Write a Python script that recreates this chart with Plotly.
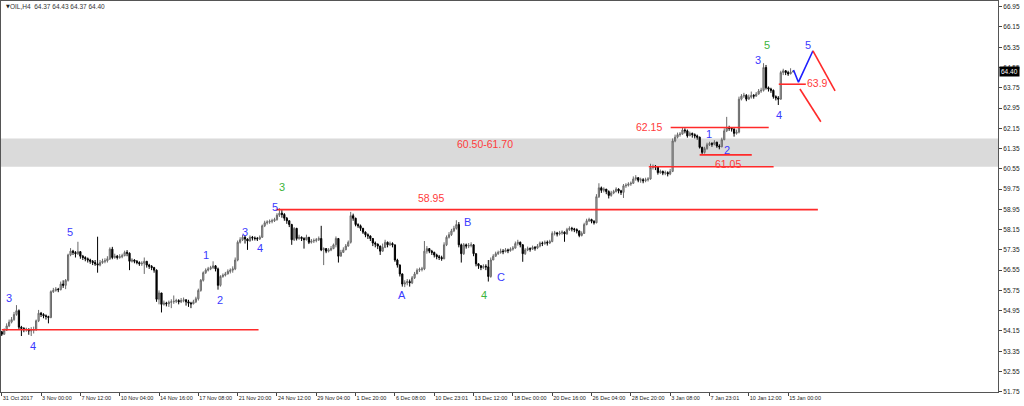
import plotly.graph_objects as go

# ---------------- data ----------------
closes = [
 54.02,54.18,54.35,54.50,54.60,54.80,54.95,54.30,54.25,54.20,
 54.22,54.15,54.18,54.20,54.55,54.85,54.80,54.75,54.72,54.68,
 55.70,55.75,55.80,55.78,56.00,55.95,56.15,57.15,57.30,57.25,
 57.20,57.28,57.10,57.05,57.00,56.95,56.90,56.85,56.80,56.75,
 56.85,56.90,56.92,57.00,57.38,57.05,57.10,57.05,57.08,57.12,
 57.25,57.22,56.90,56.95,56.90,56.85,56.80,56.82,56.90,56.75,
 56.70,56.65,56.55,55.40,55.65,55.20,55.25,55.22,55.28,55.30,
 55.32,55.35,55.30,55.35,55.38,55.30,55.25,55.22,55.30,55.42,
 55.75,56.15,56.45,56.55,56.60,56.65,56.72,56.60,55.95,56.30,
 56.35,56.40,56.50,56.55,56.60,56.95,57.65,57.75,57.85,57.78,
 57.70,57.85,57.82,57.80,57.78,57.85,58.30,58.42,58.45,58.48,
 58.50,58.55,58.72,58.80,58.75,58.60,58.50,58.35,57.75,58.20,
 57.80,57.85,57.80,57.75,57.85,57.65,57.70,57.72,57.75,57.80,
 57.35,57.40,57.30,57.35,57.40,57.55,57.80,57.10,57.25,57.35,
 57.50,57.65,58.70,58.60,58.35,58.30,58.20,58.05,57.95,57.90,
 57.80,57.62,57.58,57.50,57.30,57.45,57.65,57.55,57.60,57.55,
 56.95,56.75,56.40,56.00,56.05,56.10,56.05,56.25,56.40,56.55,
 56.58,56.60,57.30,57.40,57.30,57.25,57.15,57.08,57.05,57.00,
 57.55,57.85,57.95,58.10,58.20,58.35,57.55,57.20,57.55,57.50,
 57.52,57.55,57.20,56.80,56.72,56.65,56.70,56.68,56.30,56.95,
 57.10,57.20,57.25,57.30,57.28,57.35,57.32,57.38,57.42,57.60,
 57.65,57.55,57.20,57.35,57.40,57.38,57.45,57.42,57.50,57.62,
 57.60,57.65,57.62,57.68,58.00,58.02,57.98,58.02,58.05,57.98,
 58.15,58.20,58.18,58.15,58.10,57.92,58.00,58.35,58.50,58.55,
 58.48,58.42,59.45,59.80,59.70,59.75,59.65,59.50,59.60,59.65,
 59.75,59.68,59.62,59.88,59.90,59.95,59.98,60.15,60.20,60.10,
 60.12,60.08,60.12,60.15,60.60,60.65,60.62,60.40,60.45,60.38,
 60.40,60.35,60.45,61.65,61.80,61.90,61.92,62.08,62.05,61.85,
 61.95,61.90,61.85,61.80,61.40,61.20,61.35,61.50,61.55,61.52,
 61.60,61.45,61.42,61.70,62.05,62.18,62.15,62.12,61.95,62.00,
 63.30,63.42,63.45,63.30,63.38,63.45,63.42,63.50,63.62,63.65,
 64.55,63.75,63.70,63.65,63.40,63.35,63.30,64.35,64.42,64.35,
 64.30,64.37,64.40]

highs = [
 54.15,54.25,54.45,54.60,54.70,54.90,55.17,55.00,54.35,54.30,
 54.28,54.25,54.30,54.32,54.60,54.98,54.90,54.85,54.80,54.75,
 55.75,55.85,55.88,55.85,56.10,56.15,56.20,57.20,57.42,57.35,
 57.30,57.67,57.30,57.15,57.10,57.05,57.00,56.95,56.95,57.87,
 56.95,57.00,57.02,57.10,57.45,57.47,57.20,57.15,57.18,57.20,
 57.32,57.34,57.25,57.02,56.98,56.95,56.90,56.90,57.05,56.90,
 56.80,56.75,56.68,56.58,55.75,55.60,55.35,55.30,55.35,55.40,
 55.55,55.42,55.40,55.45,55.47,55.40,55.38,55.30,55.38,55.50,
 55.82,56.20,56.50,56.62,56.68,56.72,56.90,56.75,56.65,56.35,
 56.42,56.48,56.58,56.62,56.70,57.05,57.72,57.85,57.95,57.90,
 57.80,57.92,57.90,57.88,57.86,57.92,58.35,58.50,58.52,58.55,
 58.58,58.62,58.80,58.99,58.92,58.80,58.65,58.52,58.38,58.25,
 58.22,57.95,57.88,57.85,57.95,57.85,57.78,57.80,57.82,57.88,
 58.30,57.45,57.42,57.42,57.50,57.60,57.88,57.82,57.35,57.45,
 57.58,57.72,58.85,58.78,58.62,58.40,58.35,58.22,58.08,58.00,
 57.92,57.82,57.68,57.60,57.52,57.60,57.75,57.68,57.68,57.65,
 57.55,57.00,56.78,56.42,56.15,56.20,56.18,56.32,56.48,56.62,
 56.65,56.68,57.70,57.50,57.42,57.35,57.28,57.20,57.15,57.12,
 57.65,57.92,58.05,58.18,58.30,58.52,58.45,57.60,57.62,57.60,
 57.62,57.65,57.58,57.22,56.82,56.75,56.78,56.78,56.95,57.05,
 57.18,57.28,57.32,57.40,57.38,57.42,57.40,57.45,57.50,57.68,
 57.75,57.68,57.58,57.42,57.48,57.45,57.52,57.50,57.58,57.68,
 57.68,57.72,57.72,57.75,58.08,58.10,58.06,58.10,58.12,58.08,
 58.22,58.28,58.26,58.22,58.20,58.12,58.08,58.42,58.58,58.62,
 58.58,58.52,59.55,59.98,59.85,59.82,59.75,59.70,59.68,59.72,
 59.82,59.78,59.72,59.95,59.98,60.02,60.05,60.25,60.30,60.22,
 60.20,60.18,60.20,60.22,60.75,60.72,60.70,60.62,60.52,60.48,
 60.48,60.45,60.55,61.75,61.90,61.98,62.00,62.20,62.15,62.10,
 62.02,61.98,61.95,61.90,61.82,61.42,61.42,61.58,61.62,61.60,
 61.68,61.62,61.52,61.78,62.15,62.60,62.25,62.20,62.15,62.10,
 63.40,63.50,63.55,63.50,63.48,63.60,63.50,63.58,63.70,63.75,
 64.72,64.65,63.80,63.75,63.68,63.45,63.42,64.42,64.50,64.45,
 64.42,64.52,64.43]

lows = [
 53.95,54.00,54.15,54.30,54.45,54.55,54.75,54.20,53.95,54.10,
 54.12,54.00,53.95,54.05,54.15,54.50,54.70,54.65,54.60,54.45,
 54.65,55.65,55.70,55.68,55.75,55.85,55.80,56.10,57.10,57.15,
 57.05,57.15,57.00,56.95,56.90,56.85,56.80,56.75,56.72,56.45,
 56.70,56.80,56.82,56.85,56.95,56.98,57.00,56.97,57.00,57.02,
 57.10,57.10,56.55,56.85,56.82,56.78,56.72,56.72,56.40,56.65,
 56.60,56.55,56.45,55.30,55.20,54.88,55.15,55.12,55.10,55.05,
 55.22,55.25,55.20,55.25,55.28,55.15,55.10,55.05,55.20,55.25,
 55.35,55.70,56.10,56.40,56.50,56.55,56.60,56.50,55.78,55.90,
 56.25,56.30,56.38,56.42,56.45,56.55,56.90,57.60,57.70,57.60,
 57.35,57.68,57.72,57.72,57.70,57.74,57.82,58.25,58.35,58.38,
 58.40,58.45,58.50,58.65,58.62,58.50,58.38,58.25,57.55,57.70,
 57.72,57.75,57.70,57.40,57.72,57.58,57.60,57.62,57.65,57.70,
 57.30,56.75,57.22,57.25,57.30,57.38,57.45,56.85,57.10,57.25,
 57.38,57.48,57.60,58.50,58.28,58.22,58.10,57.98,57.85,57.78,
 57.70,57.50,57.45,57.38,57.15,57.28,57.42,57.45,57.50,57.45,
 56.88,56.65,56.30,55.90,55.88,55.95,55.90,56.00,56.20,56.40,
 56.48,56.50,56.55,57.20,57.22,57.15,57.05,56.98,56.95,56.92,
 56.98,57.50,57.80,57.90,58.05,58.15,57.45,56.85,57.15,57.40,
 57.42,57.45,57.10,56.70,56.60,56.55,56.60,56.55,56.10,56.25,
 56.95,57.08,57.15,57.20,57.18,57.25,57.22,57.28,57.32,57.40,
 57.52,57.45,56.88,57.15,57.30,57.28,57.35,57.32,57.38,57.45,
 57.50,57.55,57.52,57.58,57.65,57.92,57.88,57.92,57.95,57.67,
 57.95,58.10,58.08,58.05,58.00,57.85,57.88,57.98,58.32,58.45,
 58.40,58.35,58.40,59.40,59.60,59.62,59.55,59.38,59.45,59.55,
 59.62,59.58,59.52,59.40,59.80,59.85,59.88,59.95,60.08,60.02,
 60.00,59.98,60.02,60.05,60.12,60.52,60.50,60.32,60.35,60.30,
 60.30,60.25,60.30,60.42,61.60,61.75,61.82,61.90,61.95,61.78,
 61.85,61.78,61.75,61.70,61.35,61.10,61.15,61.30,61.45,61.42,
 61.48,61.38,61.32,61.40,61.68,62.00,62.05,62.02,61.82,61.90,
 61.95,63.25,63.35,63.22,63.28,63.32,63.32,63.40,63.48,63.55,
 63.60,63.68,63.60,63.55,63.32,63.25,63.07,63.28,64.25,64.25,
 64.22,64.28,64.37]

first_open = 54.12

time_ticks = [0, 16, 32, 48, 64, 80, 96, 112, 128, 144, 160, 176, 192, 208,
              224, 240, 256, 272, 288, 304, 320]
time_labels = ["31 Oct 2017", "3 Nov 00:00", "7 Nov 12:00", "10 Nov 04:00",
               "14 Nov 16:00", "17 Nov 08:00", "21 Nov 20:00", "24 Nov 12:00",
               "29 Nov 04:00", "1 Dec 20:00", "6 Dec 08:00", "10 Dec 23:01",
               "13 Dec 12:00", "18 Dec 00:00", "20 Dec 16:00", "26 Dec 04:00",
               "28 Dec 20:00", "3 Jan 08:00", "7 Jan 23:01", "10 Jan 12:00",
               "15 Jan 00:00"]
price_ticks = [51.75, 52.55, 53.35, 54.15, 54.95, 55.75, 56.55, 57.35, 58.15,
               58.95, 59.75, 60.55, 61.35, 62.15, 62.95, 63.75, 64.55, 65.35,
               66.15, 66.95]

zone_low, zone_high = 60.63, 61.75
# horizontal levels: (price, first bar, last bar)
level_price = [54.20, 58.94, 62.18, 61.10, 60.63, 63.89]
level_start = [0.0, 111.5, 272.2, 284.0, 263.3, 316.2]
level_end = [104.5, 332.1, 312.1, 305.2, 314.1, 327.2]

proj_blue_x = [322.2, 324.2, 330.1]
proj_blue_y = [64.45, 63.97, 65.21]
proj_red1_x = [330.1, 339.1]
proj_red1_y = [65.21, 63.63]
proj_red2_x = [324.8, 333.3]
proj_red2_y = [63.70, 62.41]

wave_blue_text = ["3", "4", "5", "1", "2", "3", "4", "5", "A", "B", "C",
                  "1", "2", "3", "4", "5"]
wave_blue_x = [3.0, 12.7, 27.8, 83.0, 88.8, 98.9, 104.9, 111.1, 163.0, 189.7,
               203.1, 287.8, 295.0, 307.9, 316.1, 328.1]
wave_blue_y = [55.44, 53.57, 58.04, 57.15, 55.37, 58.07, 57.41, 59.05, 55.57,
               58.46, 56.27, 61.92, 61.30, 64.85, 62.67, 65.44]
wave_green_text = ["3", "4", "5"]
wave_green_x = [113.9, 196.3, 311.6]
wave_green_y = [59.83, 55.57, 65.44]

red_text = ["60.50-61.70", "58.95", "62.15", "61.05", "63.9"]
red_text_x = [196.5, 174.8, 263.3, 295.6, 331.9]
red_text_y = [61.53, 59.39, 62.21, 60.74, 63.93]

header = "OIL,H4  64.37 64.43 64.37 64.40"
last_price = 64.40

# ---------------- build ----------------
n = len(closes)
idx = list(range(n))
opens = [first_open] + closes[:-1]
hi = [max(h, o, c) for h, o, c in zip(highs, opens, closes)]
lo = [min(l, o, c) for l, o, c in zip(lows, opens, closes)]

fig = go.Figure()
fig.add_trace(go.Candlestick(
    x=idx, open=opens, high=hi, low=lo, close=closes,
    increasing=dict(line=dict(color="#6a6a6a", width=1), fillcolor="#b8b8b8"),
    decreasing=dict(line=dict(color="#000000", width=1), fillcolor="#000000"),
    whiskerwidth=0, showlegend=False, hoverinfo="skip"))

RED = "#ff2a2a"
fig.add_trace(go.Scatter(x=proj_blue_x, y=proj_blue_y, mode="lines",
                         line=dict(color="#1f1fff", width=1.6),
                         showlegend=False, hoverinfo="skip"))
for xs, ys in [(proj_red1_x, proj_red1_y), (proj_red2_x, proj_red2_y)]:
    fig.add_trace(go.Scatter(x=xs, y=ys, mode="lines",
                             line=dict(color=RED, width=1.6),
                             showlegend=False, hoverinfo="skip"))

shapes = [dict(type="rect", xref="paper", x0=0, x1=1, yref="y",
               y0=zone_low, y1=zone_high, fillcolor="#dadada",
               line=dict(width=0), layer="below")]
for p, a, b in zip(level_price, level_start, level_end):
    shapes.append(dict(type="line", xref="x", yref="y", x0=a, x1=b, y0=p, y1=p,
                       line=dict(color=RED, width=1.6), layer="above"))

ann = []
for t, x, y in zip(wave_blue_text, wave_blue_x, wave_blue_y):
    ann.append(dict(x=x, y=y, xref="x", yref="y", text=t, showarrow=False,
                    font=dict(family="Liberation Sans, Arial", size=11, color="#3a3aff")))
for t, x, y in zip(wave_green_text, wave_green_x, wave_green_y):
    ann.append(dict(x=x, y=y, xref="x", yref="y", text=t, showarrow=False,
                    font=dict(family="Liberation Sans, Arial", size=11, color="#3cb43c")))
for t, x, y in zip(red_text, red_text_x, red_text_y):
    ann.append(dict(x=x, y=y, xref="x", yref="y", text=t, showarrow=False,
                    font=dict(family="Liberation Sans, Arial", size=10.5, color="#ff3b3b")))
ann.append(dict(x=0.003, y=0.986, xref="paper", yref="paper", text="▼",
                showarrow=False, xanchor="left", yanchor="middle",
                font=dict(family="DejaVu Sans", size=5, color="#222")))
ann.append(dict(x=0.0075, y=0.986, xref="paper", yref="paper", text=header,
                showarrow=False, xanchor="left", yanchor="middle",
                font=dict(family="Liberation Sans, Arial", size=6.5, color="#333")))
ann.append(dict(x=1, y=last_price, xref="paper", yref="y", text=f"{last_price:.2f}",
                showarrow=False, xanchor="left", yanchor="middle", xshift=1,
                bgcolor="#000000", borderpad=1,
                font=dict(family="Liberation Sans, Arial", size=6.5, color="#ffffff")))

fig.update_layout(
    width=1024, height=406,
    margin=dict(l=1, r=26, t=1, b=14),
    paper_bgcolor="white", plot_bgcolor="white",
    showlegend=False, shapes=shapes, annotations=ann,
    xaxis=dict(range=[-0.3, 405.4], tickvals=time_ticks, ticktext=time_labels,
               ticks="outside", ticklen=3, tickcolor="#444", tickangle=0,
               ticklabelposition="outside right",
               tickfont=dict(family="Liberation Sans, Arial", size=5.5, color="#222"),
               showline=True, linecolor="#555", linewidth=1, mirror=True,
               showgrid=False, zeroline=False, rangeslider=dict(visible=False)),
    yaxis=dict(range=[51.74, 67.175], side="right", tickvals=price_ticks,
               ticktext=[f"{v:.2f}" for v in price_ticks],
               ticks="outside", ticklen=3, tickcolor="#444",
               tickfont=dict(family="Liberation Sans, Arial", size=6.5, color="#222"),
               showline=True, linecolor="#555", linewidth=1, mirror=True,
               showgrid=False, zeroline=False),
)

fig.write_html("out.html", config={"displayModeBar": False},
               post_script="document.body.style.margin='0px';document.body.style.overflow='hidden';")
